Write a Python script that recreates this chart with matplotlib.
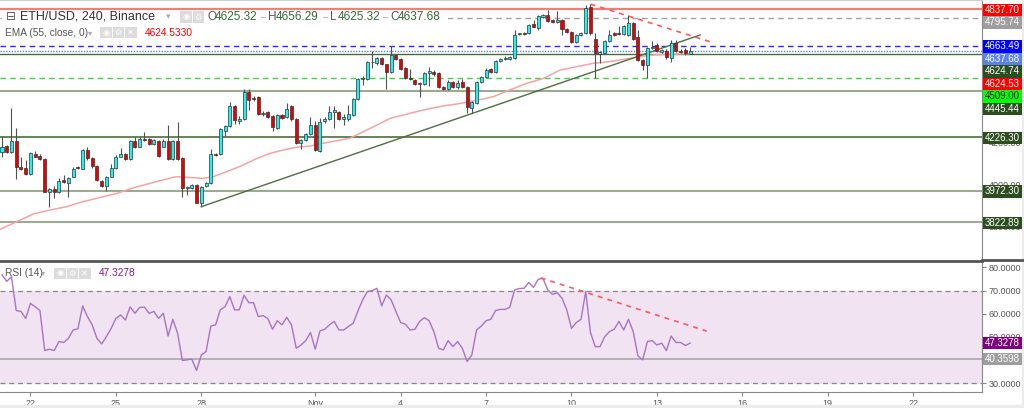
import numpy as np
import pandas as pd
import matplotlib
matplotlib.use("Agg")
import matplotlib.pyplot as plt
from matplotlib.patches import Rectangle
from matplotlib.lines import Line2D

# ---------------- data ----------------
start = "2021-10-21 00:00"
opens = [4158, 4185, 4158, 4210, 4085, 4079, 4050, 4149, 4137, 4122,
         3964, 3979, 3967, 4023, 4007, 4039, 4085, 4077, 4166, 4129,
         4090, 4018, 3996, 4039, 4079, 4134, 4147, 4122, 4207, 4182,
         4218, 4218, 4194, 4210, 4182, 4210, 4121, 4210, 4128, 3983,
         3986, 3998, 3915, 3996, 4007, 4147, 4145, 4258, 4280, 4375,
         4304, 4312, 4444, 4415, 4420, 4336, 4349, 4328, 4272, 4333,
         4322, 4376, 4314, 4198, 4214, 4241, 4285, 4163, 4304, 4312,
         4349, 4349, 4312, 4312, 4333, 4407, 4503, 4503, 4584, 4579,
         4604, 4574, 4539, 4620, 4598, 4555, 4511, 4500, 4479, 4479,
         4531, 4539, 4531, 4468, 4455, 4492, 4468, 4488, 4468, 4364,
         4392, 4492, 4515, 4552, 4538, 4590, 4598, 4598, 4603, 4717,
         4722, 4722, 4765, 4746, 4801, 4809, 4785, 4777, 4785, 4742,
         4730, 4682, 4714, 4722, 4849, 4693, 4623, 4627, 4685, 4722,
         4722, 4717, 4714, 4769, 4706, 4595, 4571, 4650, 4666, 4634,
         4639, 4603, 4674, 4639, 4642, 4625.32]
highs = [4232, 4190, 4364, 4269, 4131, 4118, 4155, 4163, 4145, 4126,
         3985, 3996, 4031, 4047, 4036, 4087, 4090, 4172, 4179, 4135,
         4093, 4023, 4043, 4099, 4144, 4174, 4150, 4213, 4226, 4226,
         4253, 4225, 4220, 4215, 4218, 4285, 4215, 4299, 4132, 3996,
         4003, 4002, 3996, 4012, 4169, 4152, 4270, 4285, 4396, 4380,
         4330, 4455, 4455, 4422, 4424, 4352, 4352, 4331, 4338, 4338,
         4388, 4382, 4317, 4220, 4246, 4322, 4304, 4317, 4325, 4376,
         4376, 4354, 4336, 4380, 4412, 4508, 4519, 4590, 4638, 4610,
         4608, 4578, 4661, 4625, 4602, 4560, 4550, 4505, 4490, 4536,
         4563, 4545, 4536, 4472, 4498, 4496, 4498, 4505, 4472, 4400,
         4497, 4520, 4555, 4556, 4597, 4606, 4612, 4612, 4738, 4725,
         4726, 4766, 4785, 4810, 4815, 4833, 4790, 4828, 4790, 4747,
         4735, 4720, 4730, 4857, 4860, 4722, 4640, 4690, 4738, 4727,
         4757, 4762, 4809, 4774, 4738, 4600, 4655, 4687, 4677, 4648,
         4645, 4690, 4690, 4645, 4650, 4656.29]
lows = [4134, 4152, 4150, 4028, 4070, 4045, 4048, 4131, 4118, 3965,
        3893, 3939, 3960, 4007, 3940, 4036, 4075, 4074, 4118, 4079,
        4020, 3992, 3971, 4035, 4075, 4131, 4118, 4118, 4175, 4178,
        4208, 4190, 4190, 4133, 4178, 4118, 4118, 4120, 3944, 3950,
        3980, 3912, 3896, 3990, 4004, 4138, 4140, 4235, 4276, 4290,
        4290, 4308, 4357, 4400, 4332, 4330, 4318, 4258, 4266, 4312,
        4318, 4306, 4195, 4172, 4208, 4236, 4160, 4158, 4296, 4308,
        4269, 4311, 4285, 4306, 4328, 4402, 4476, 4498, 4555, 4572,
        4570, 4455, 4535, 4594, 4545, 4506, 4498, 4474, 4420, 4474,
        4471, 4520, 4460, 4452, 4450, 4462, 4458, 4460, 4344, 4341,
        4385, 4485, 4510, 4533, 4533, 4585, 4594, 4593, 4598, 4712,
        4712, 4717, 4750, 4740, 4796, 4778, 4772, 4772, 4715, 4722,
        4677, 4677, 4709, 4717, 4715, 4507, 4579, 4622, 4680, 4709,
        4712, 4712, 4709, 4688, 4590, 4547, 4507, 4645, 4633, 4628,
        4598, 4587, 4633, 4630, 4620, 4625.32]
closes = [4179, 4156, 4210, 4083, 4077, 4050, 4150, 4134, 4123, 3967,
          3979, 3967, 4020, 4012, 4033, 4077, 4080, 4166, 4126, 4090,
          4023, 3996, 4039, 4079, 4131, 4145, 4122, 4209, 4179, 4218,
          4213, 4194, 4214, 4137, 4210, 4123, 4210, 4125, 3986, 3991,
          3998, 3915, 3990, 4007, 4145, 4142, 4264, 4280, 4375, 4309,
          4312, 4444, 4404, 4409, 4336, 4344, 4325, 4277, 4333, 4317,
          4363, 4312, 4198, 4214, 4241, 4284, 4166, 4298, 4314, 4349,
          4357, 4315, 4322, 4338, 4407, 4503, 4511, 4584, 4587, 4604,
          4574, 4539, 4620, 4598, 4550, 4511, 4503, 4479, 4484, 4531,
          4542, 4526, 4468, 4457, 4492, 4468, 4487, 4465, 4369, 4396,
          4492, 4515, 4547, 4538, 4590, 4601, 4606, 4607, 4714, 4722,
          4717, 4761, 4754, 4806, 4809, 4782, 4777, 4785, 4742, 4727,
          4682, 4714, 4722, 4841, 4722, 4627, 4634, 4685, 4714, 4714,
          4717, 4757, 4769, 4693, 4595, 4571, 4650, 4658, 4638, 4642,
          4607, 4674, 4639, 4634, 4626, 4637.68]

# EMA(55) line, sampled along the chart (candle index, value)
ema_idx = [-0.4, 2.4, 6.6, 10.1, 13.6, 17.1, 20.7, 24.2, 27.7, 31.2, 34.7, 36.8,
           38.9, 42.4, 44.5, 47.4, 50.9, 53.7, 56.5, 59.3, 62.1, 64.9, 67.7,
           70.5, 73.3, 76.1, 79.0, 81.8, 84.6, 87.4, 90.2, 93.0, 95.8, 100.0,
           103.5, 107.0, 110.6, 114.1, 117.6, 121.1, 124.6, 128.1, 131.6,
           134.5, 137.3, 140.1, 142.9, 145.0]
ema_val = [3788, 3817, 3861, 3880, 3896, 3920, 3940, 3959, 3986, 4007, 4028, 4039,
           4036, 4031, 4039, 4063, 4095, 4126, 4150, 4166, 4179, 4185, 4198,
           4210, 4222, 4253, 4285, 4317, 4333, 4349, 4364, 4376, 4385, 4402,
           4420, 4452, 4484, 4507, 4547, 4563, 4579, 4587, 4600,
           4611, 4619, 4622, 4623.5, 4624.533]

rsi = [76.8, 74.0, 76.0, 61.4, 61.0, 58.0, 64.5, 63.0, 61.4, 44.1,
       44.7, 44.1, 48.0, 47.6, 49.4, 53.0, 53.5, 63.4, 58.8, 55.2,
       49.4, 47.0, 50.1, 53.7, 58.0, 59.5, 57.3, 63.0, 60.2, 62.7,
       62.9, 60.2, 61.0, 58.0, 60.2, 50.4, 57.6, 51.6, 39.8, 40.1,
       40.4, 35.5, 42.2, 43.7, 54.7, 55.2, 61.7, 63.1, 67.4, 61.7,
       61.7, 68.0, 64.8, 64.8, 58.8, 59.2, 58.0, 53.3, 57.0, 55.2,
       58.5, 55.2, 45.1, 46.5, 48.4, 51.9, 44.7, 52.6, 53.3, 55.2,
       56.7, 53.0, 53.0, 54.5, 55.9, 61.2, 66.0, 69.6, 70.0, 71.0,
       63.4, 68.1, 66.0, 61.0, 56.2, 55.5, 53.0, 53.3, 56.7, 58.3,
       57.0, 52.3, 45.1, 44.4, 48.4, 45.8, 48.0, 45.1, 39.4, 42.2,
       53.0, 54.7, 57.0, 57.6, 61.4, 61.9, 61.9, 62.8, 70.3, 70.9,
       71.0, 73.5, 71.4, 74.9, 75.3, 70.3, 68.4, 69.1, 66.7, 61.7,
       53.7, 56.2, 57.6, 69.6, 51.9, 45.8, 45.8, 50.1, 52.3, 53.3,
       56.7, 53.0, 57.6, 52.3, 41.8, 40.1, 48.0, 48.4, 46.5, 47.3,
       44.1, 50.4, 47.6, 47.6, 46.3, 47.3278]

# horizontal price levels
levels = [4837.70, 4795.74, 4663.49, 4637.68, 4624.74, 4509.00,
          4445.44, 4226.30, 3972.30, 3822.89]
ema_last = 4624.5330

# trend lines (candle index, price)
up_trend_idx = [42, 147.1]
up_trend_val = [3896, 4714]
down_trend_idx = [124, 149.2]
down_trend_val = [4861, 4682]
rsi_trend_idx = [113.5, 148.5]
rsi_trend_val = [75.5, 52.5]
rsi_level = 40.3598

tick_days = ["2021-10-22", "2021-10-25", "2021-10-28", "2021-11-01", "2021-11-04",
             "2021-11-07", "2021-11-10", "2021-11-13", "2021-11-16", "2021-11-19",
             "2021-11-22"]
tick_labels = ["22", "25", "28", "Nov", "4", "7", "10", "13", "16", "19", "22"]

price_ticks = [3800, 4000, 4200, 4400, 4600, 4800]
price_tick_shown = [True, True, True, False, False, False]  # others hidden behind labels
rsi_ticks = [30, 40, 50, 60, 70, 80]
rsi_tick_shown = [True, False, True, True, True, True]

legend_ohlc = [("O", "4625.32"), ("H", "4656.29"), ("L", "4625.32"), ("C", "4637.68")]

# ---------------- figure ----------------
W, H = 1024, 408
plt.rcParams["font.family"] = ["Liberation Sans", "DejaVu Sans"]
fig = plt.figure(figsize=(W / 100, H / 100), dpi=100)
fig.patch.set_facecolor("white")


def fx(px):
    return px / W


def fy(py):
    return 1 - py / H


PLOT_R = 982
ax = fig.add_axes([0, fy(259), fx(PLOT_R), 259 / H])
ax2 = fig.add_axes([0, fy(392), fx(PLOT_R), (392 - 261) / H])

t0 = pd.Timestamp(start)
dates = pd.date_range(t0, periods=len(closes), freq="4h")
xs = np.asarray((dates - t0) / pd.Timedelta("4h"), dtype=float)
o = np.array(opens, float)
h = np.array(highs, float)
l = np.array(lows, float)
c = np.array(closes, float)
up = c >= o

XL = (-0.42, 206.5)
for a in (ax, ax2):
    a.set_xlim(*XL)
    a.set_facecolor("white")
    a.spines["left"].set_visible(False)

ax.set_ylim(3646.7, 4880.6)
ax2.set_ylim(26.2, 82.8)

# levels
lvl_styles = [
    dict(color="#f47c7c", lw=1.6, ls="-"),
    dict(color="#a0a0a0", lw=1.0, ls=(0, (4, 3))),
    dict(color="#2a2aff", lw=1.0, ls=(0, (4, 3))),
    dict(color="#5b82e6", lw=1.0, ls=(0, (1, 1))),
    dict(color="#4a6b3a", lw=1.0, ls="-"),
    dict(color="#3ad63a", lw=1.0, ls=(0, (4, 3))),
    dict(color="#9aab90", lw=1.5, ls="-"),
    dict(color="#5b7a4c", lw=1.3, ls="-"),
    dict(color="#9aab90", lw=1.5, ls="-"),
    dict(color="#9aab90", lw=1.5, ls="-"),
]
for v, st in zip(levels, lvl_styles):
    ax.axhline(v, zorder=2, **st)

# EMA
ax.plot(ema_idx, ema_val, color="#f5a3a3", lw=1.1, zorder=2.5)
# trend lines
ax.plot(up_trend_idx, up_trend_val, color="#4f6e42", lw=1.0, zorder=2.6)
ax.plot(down_trend_idx, down_trend_val, color="#ff5a5a", lw=1.2,
        ls=(0, (3, 3)), zorder=2.6)

# candles
ax.vlines(xs, l, h, color="#505050", lw=0.8, zorder=3)
body_bottom = np.minimum(o, c)
body_h = np.maximum(np.abs(c - o), 3.0)
ax.bar(xs, body_h, bottom=body_bottom, width=0.64,
       color=np.where(up, "#1ff2f2", "#e60000"), edgecolor="#333333",
       linewidth=0.5, zorder=4)

# main axis ticks (right)
ax.yaxis.tick_right()
ax.set_yticks(price_ticks)
ax.set_yticklabels(["%.2f" % v if s else "" for v, s in zip(price_ticks, price_tick_shown)])
ax.tick_params(axis="y", colors="#888888", labelcolor="#555555", labelsize=6.5,
               length=3, width=0.8, pad=2)
ax.set_xticks([])
ax.spines["bottom"].set_visible(False)
ax.spines["top"].set_color("#d0d0d0")
ax.spines["right"].set_color("#888888")

# RSI pane
ax2.axhspan(30, 70, color="#f1e3f1", zorder=0)
ax2.axhline(70, color="#888888", lw=0.9, ls=(0, (4, 3)), zorder=1)
ax2.axhline(30, color="#888888", lw=0.9, ls=(0, (4, 3)), zorder=1)
ax2.axhline(rsi_level, color="#aaaaaa", lw=1.2, zorder=1)
ax2.plot(xs, rsi, color="#a874c4", lw=1.0, zorder=3)
ax2.plot(rsi_trend_idx, rsi_trend_val, color="#ff5a5a", lw=1.2,
         ls=(0, (3, 3)), zorder=3)
ax2.yaxis.tick_right()
ax2.set_yticks(rsi_ticks)
ax2.set_yticklabels(["%.4f" % v if s else "" for v, s in zip(rsi_ticks, rsi_tick_shown)])
ax2.tick_params(axis="y", colors="#888888", labelcolor="#555555", labelsize=6.5,
                length=3, width=0.8, pad=2)
tick_pos = [(pd.Timestamp(d) - t0) / pd.Timedelta("4h") for d in tick_days]
ax2.set_xticks(tick_pos)
ax2.set_xticklabels(tick_labels)
ax2.tick_params(axis="x", colors="#888888", labelcolor="#555555", labelsize=6.5,
                length=3, width=0.8, pad=2)
ax2.spines["top"].set_color("#555555")
ax2.spines["top"].set_linewidth(2)
ax2.spines["right"].set_color("#888888")
ax2.spines["bottom"].set_color("#888888")

# separator continues under the price scale
fig.add_artist(Line2D([fx(PLOT_R), 1], [fy(260), fy(260)], color="#555555",
                      lw=2, transform=fig.transFigure))
# thin border strips
fig.add_artist(Rectangle((0, 0), 1, 3.5 / H, transform=fig.transFigure,
                         color="#ececec", zorder=1))
fig.add_artist(Rectangle((fx(1021.5), 0), 2.5 / W, 1, transform=fig.transFigure,
                         color="#ececec", zorder=1))

# ---------------- price labels on the scale ----------------
fig.canvas.draw()


def ypx(a, v):
    return H - a.transData.transform((0, v))[1]


main_labels = [
    (4837.70, "#ff0000", "white"),
    (4795.74, "#9e9e9e", "white"),
    (4663.49, "#0000ff", "white"),
    (4637.68, "#5b82e6", "white"),
    (4624.74, "#2c4d1f", "white"),
    (ema_last, "#ff0000", "white"),
    (4509.00, "#00ff00", "#1a1a1a"),
    (4445.44, "#2c4d1f", "white"),
    (4226.30, "#2c4d1f", "white"),
    (3972.30, "#2c4d1f", "white"),
    (3822.89, "#2c4d1f", "white"),
]
rsi_labels = [
    (rsi[-1], "#800080", "white", "%.4f"),
    (rsi_level, "#9e9e9e", "white", "%.4f"),
]

LH = 12.5


def draw_label(py, text, bg, fg):
    fig.add_artist(Rectangle((fx(983), fy(py + LH / 2)), 38.5 / W, LH / H,
                             transform=fig.transFigure, facecolor=bg,
                             edgecolor="none", zorder=5))
    fig.text(fx(1002.5), fy(py), text, color=fg, fontsize=7, ha="center",
             va="center", zorder=6)


prev = -1e9
for v, bg, fg in main_labels:
    py = max(ypx(ax, v) + 0.8, prev + LH)
    draw_label(py, "%.2f" % v, bg, fg)
    prev = py
prev = -1e9
for v, bg, fg, f in rsi_labels:
    py = max(ypx(ax2, v), prev + LH)
    draw_label(py, f % v, bg, fg)
    prev = py

# ---------------- legends ----------------
# legend line sits on a white strip (the level line behind it is hidden there)
fig.add_artist(Rectangle((fx(2), fy(23)), 446 / W, 11.5 / H,
                         transform=fig.transFigure, facecolor="white",
                         edgecolor="none", zorder=4))


def txt(px, py, s, color, size, **kw):
    fig.text(fx(px), fy(py), s, color=color, fontsize=size, ha="left",
             va="center", zorder=7, **kw)


def icons(px0, py, n):
    glyphs = ["\u25c9", "\u2699", "\u2715"]
    for k in range(n):
        x0 = px0 + k * 12.5
        fig.add_artist(Rectangle((fx(x0), fy(py + 5.5)), 11.5 / W, 11 / H,
                                 transform=fig.transFigure, facecolor="#dcdcdc",
                                 edgecolor="none", zorder=6))
        fig.text(fx(x0 + 5.75), fy(py), glyphs[k], color="white", fontsize=6,
                 ha="center", va="center", zorder=7,
                 family=["DejaVu Sans"])


txt(6, 16.5, "\u229f", "#555555", 8.5, family=["DejaVu Sans"])
txt(20, 16.5, "ETH/USD, 240, Binance", "#333333", 9)
txt(166, 16.5, "\u25be", "#aaaaaa", 6.5, family=["DejaVu Sans"])
icons(180, 17, 2)
ox = [207, 268, 330, 390]
for (k, val), px in zip(legend_ohlc, ox):
    if px > 210:
        fig.add_artist(Line2D([fx(px - 7), fx(px - 3)], [fy(17), fy(17)],
                              color="#bbbbbb", lw=0.8, transform=fig.transFigure,
                              zorder=6))
    txt(px, 16.5, k, "#555555", 8.5)
    txt(px + 8, 16.5, val, "#2f6e35", 8.5)

txt(5, 32.5, "EMA (55, close, 0)", "#555555", 7.3)
txt(88, 32.5, "\u25be", "#aaaaaa", 6, family=["DejaVu Sans"])
icons(100, 32.5, 3)
txt(145, 32.5, "%.4f" % ema_last, "#ff0000", 7.3)

txt(5, 272.5, "RSI (14)", "#555555", 7.3)
txt(41, 272.5, "\u25be", "#aaaaaa", 6, family=["DejaVu Sans"])
icons(54, 273, 3)
txt(99, 272.5, "%.4f" % rsi[-1], "#8b1a8b", 7.3)

fig.savefig("out.png", dpi=100, facecolor="white")
